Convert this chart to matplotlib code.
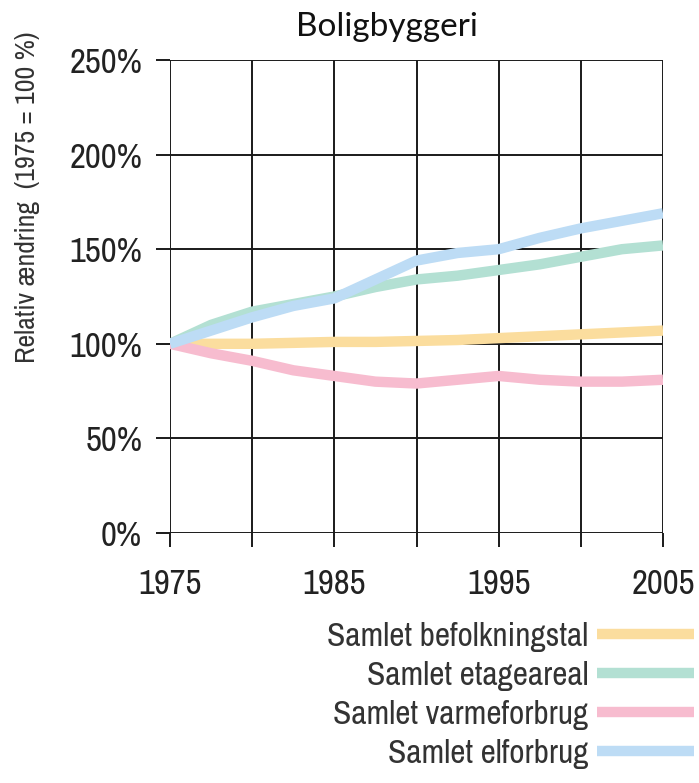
import numpy as np
import matplotlib
matplotlib.use('Agg')
import matplotlib.pyplot as plt
from matplotlib.lines import Line2D

# data (1975 = 100 %)
years = [1975, 1977.5, 1980, 1982.5, 1985, 1987.5, 1990, 1992.5, 1995, 1997.5, 2000, 2002.5, 2005]
befolkning = [100, 100, 100, 100.5, 101, 101, 101.5, 102, 103, 104, 105, 106, 107]
etageareal = [100, 110, 117, 121, 125, 130, 134, 136, 139, 142, 146, 150, 152]
varme = [100, 95, 91, 86, 83, 80, 79, 81, 83, 81, 80, 80, 81]
el = [100, 107, 114, 120, 124, 134, 144, 148, 150, 156, 161, 165, 169]

labels = ['Samlet befolkningstal', 'Samlet etageareal', 'Samlet varmeforbrug', 'Samlet elforbrug']
colors = ['#fbdd9e', '#b3e0d3', '#f7bccf', '#bddcf5']
x_ticks = [1975, 1980, 1985, 1990, 1995, 2000, 2005]
x_ticklabels = ['1975', '', '1985', '', '1995', '', '2005']
y_ticks = [0, 50, 100, 150, 200, 250]

narrow = ['Archivo Narrow', 'Liberation Sans', 'DejaVu Sans']
plt.rcParams['font.family'] = narrow

fig = plt.figure(figsize=(6.99, 7.83), dpi=100)
ax = fig.add_axes([170 / 699, 1 - 533 / 783, 493 / 699, 473 / 783])

series = [befolkning, etageareal, varme, el]
for vals, c in zip(series, colors):
    ax.plot(years, vals, color=c, lw=7.5, solid_capstyle='butt', zorder=3)

ax.set_xlim(1975, 2005)
ax.set_ylim(0, 250)
ax.set_xticks(x_ticks)
ax.set_xticklabels(x_ticklabels)
ax.set_yticks(y_ticks)
ax.set_yticklabels([f'{v}%' for v in y_ticks])
ax.grid(True, color='#1a1a1a', lw=1.4, zorder=1)
for s in ax.spines.values():
    s.set_visible(False)
ax.tick_params(axis='both', length=10, width=1.4, color='#1a1a1a', labelsize=25, labelcolor='#222222')
ax.tick_params(axis='x', pad=15)
ax.tick_params(axis='y', pad=10)

fig.text(387 / 699, 1 - 27 / 783, 'Boligbyggeri', ha='center', va='center',
         fontsize=24, family=['Lato', 'DejaVu Sans'], color='#111111')
fig.text(28 / 699, 1 - 197 / 783, 'Relativ ændring  (1975 = 100 %)', rotation=90,
         ha='center', va='center', fontsize=20, color='#333333')

handles = [Line2D([0], [0], color=c, lw=7.5, solid_capstyle='butt') for c in colors]
fig.legend(handles, labels, loc='upper right', bbox_to_anchor=(694 / 699, 1 - 622 / 783),
           markerfirst=False, frameon=False, fontsize=24, handlelength=2.9,
           handletextpad=0.27, labelspacing=0.27, borderpad=0, borderaxespad=0,
           labelcolor='#333333')

fig.savefig('out.png', dpi=100)
